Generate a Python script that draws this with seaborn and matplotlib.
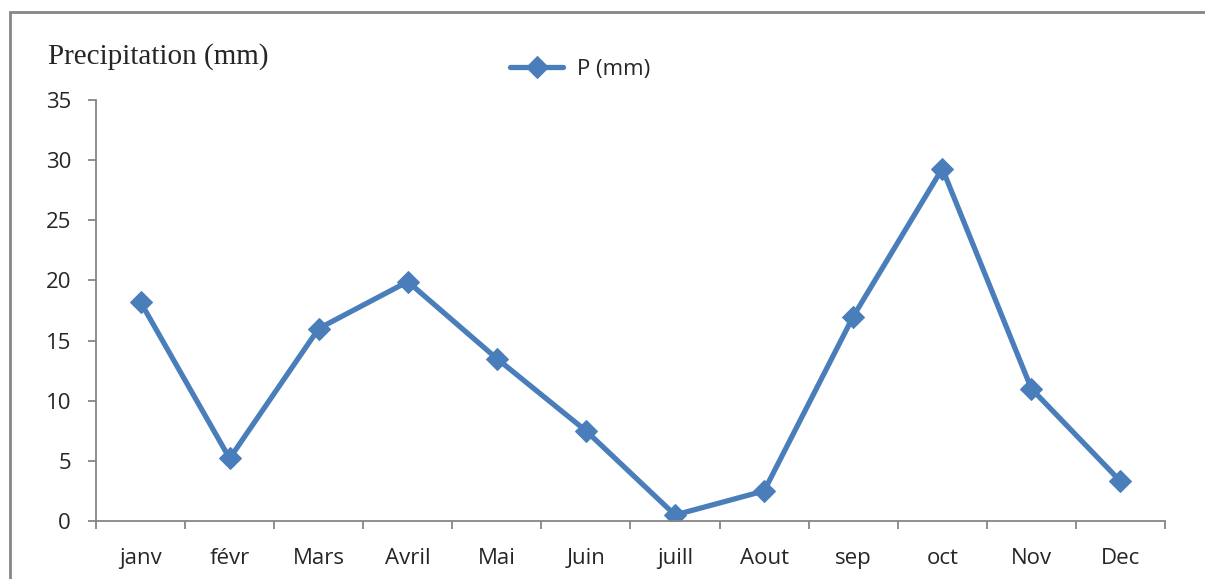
import pandas as pd
import seaborn as sns
from matplotlib import pyplot as plt
from matplotlib.patches import Rectangle

months = ['janv', 'févr', 'Mars', 'Avril', 'Mai', 'Juin', 'juill', 'Aout', 'sep', 'oct', 'Nov', 'Dec']
precip = [18.2, 5.2, 16.0, 19.9, 13.5, 7.5, 0.5, 2.5, 17.0, 29.3, 11.0, 3.3]
yticks = [0, 5, 10, 15, 20, 25, 30, 35]

df = pd.DataFrame({'mois': months, 'P': precip})
df['x'] = range(len(months))

sns.set_style('white')
plt.rcParams['font.family'] = ['Open Sans', 'DejaVu Sans']

blue = '#4a7ebb'
grey = '#868686'

fig = plt.figure(figsize=(12.05, 5.79), dpi=100)
ax = fig.add_axes([96/1205, 1 - 521/579, (1165 - 96)/1205, (521 - 100)/579])

sns.lineplot(data=df, x='x', y='P', sort=False, color=blue, lw=3.8,
             marker='D', markersize=11, markeredgecolor=blue, label='P (mm)', ax=ax)

ax.set_xlim(-0.5, len(months) - 0.5)
ax.set_ylim(0, 35)
ax.set_yticks(yticks)
ax.set_yticklabels([str(v) for v in yticks], fontsize=16)
ax.set_xticks([i - 0.5 for i in range(len(months) + 1)])
ax.set_xticklabels([])
for i, m in enumerate(months):
    ax.text(i, -3.1, m, ha='center', va='center', fontsize=16)
ax.set_xlabel('')
ax.set_ylabel('')

for s in ['top', 'right']:
    ax.spines[s].set_visible(False)
for s in ['left', 'bottom']:
    ax.spines[s].set_color(grey)
    ax.spines[s].set_linewidth(1.3)
ax.tick_params(axis='both', direction='out', length=6, width=1.3, color=grey, left=True, bottom=True)
ax.tick_params(axis='y', pad=12)

fig.text(48/1205, 1 - 57/579, 'Precipitation (mm)', family='Liberation Serif',
         fontsize=21, va='center', ha='left')

ax.legend(loc='center', bbox_to_anchor=(580/1205, 1 - 69/579), bbox_transform=fig.transFigure,
          frameon=False, fontsize=16, handlelength=2.4, handletextpad=0.6)

# outer frame (only top/left visible in the reference)
fig.patches.append(Rectangle((10/1205, -0.2), 1.2, 1 - 12/579 + 0.2, transform=fig.transFigure,
                             fill=False, edgecolor=grey, lw=2, figure=fig))

fig.savefig('out.png', dpi=100)
